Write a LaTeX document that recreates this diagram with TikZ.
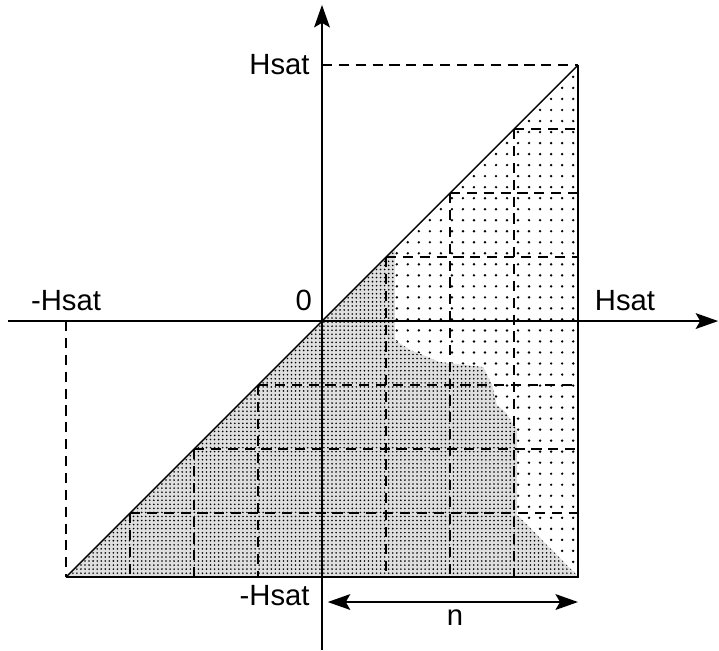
\documentclass[tikz,border=0pt]{standalone}
\usepackage{fontspec}
\setmainfont{Liberation Sans}
\usetikzlibrary{arrows.meta, patterns.meta, positioning}
\tikzset{
  axisline/.style={line width=0.9pt, -{Stealth[length=10pt,width=7pt,inset=2pt]}},
  gridline/.style={line width=0.9pt, dash pattern=on 4.5pt off 3pt},
  edgeline/.style={line width=0.9pt},
  sparsedots/.style={pattern={Dots[distance=4.9pt,radius=0.6pt]}},
  densedots/.style={pattern={Dots[distance=1.8pt,radius=0.4pt]}}
}

\begin{document}
\begin{tikzpicture}[x=1cm, y=1cm, font=\fontsize{13}{15}\selectfont]
\useasboundingbox (-5.031,-5.141) rectangle (6.203,5.016);
\coordinate (origin) at (0,0);
\coordinate (topright) at (4,4);
\coordinate (botright) at (4,-4);
\coordinate (botleft) at (-4,-4);
\coordinate (topaxis) at (0,4);
\coordinate (leftaxis) at (-4,0);
\coordinate (rightaxis) at (4,0);
\coordinate (botaxis) at (0,-4);
% shaded triangle
\fill[sparsedots] (botleft) -- (topright) -- (botright) -- cycle;
\fill[white] (botleft) -- (origin) -- (1.14,1.14) -- (1.14,-0.30) -- (1.375,-0.45)
  -- (1.84,-0.64) -- (2.52,-0.72) -- (2.66,-1.0) -- (2.73,-1.31) -- (2.86,-1.42)
  -- (3.05,-1.70) -- (3.05,-3.03) -- (3.98,-3.97) -- (botright) -- cycle;
\fill[gray!25] (botleft) -- (origin) -- (1.14,1.14) -- (1.14,-0.30) -- (1.375,-0.45)
  -- (1.84,-0.64) -- (2.52,-0.72) -- (2.66,-1.0) -- (2.73,-1.31) -- (2.86,-1.42)
  -- (3.05,-1.70) -- (3.05,-3.03) -- (3.98,-3.97) -- (botright) -- cycle;
\fill[densedots] (botleft) -- (origin) -- (1.14,1.14) -- (1.14,-0.30) -- (1.375,-0.45)
  -- (1.84,-0.64) -- (2.52,-0.72) -- (2.66,-1.0) -- (2.73,-1.31) -- (2.86,-1.42)
  -- (3.05,-1.70) -- (3.05,-3.03) -- (3.98,-3.97) -- (botright) -- cycle;
% dashed grid
\draw[gridline] (topaxis) -- (topright);
\draw[gridline] (leftaxis) -- (botleft);
\draw[gridline] (1,1) -- (4,1);
\draw[gridline] (2,2) -- (4,2);
\draw[gridline] (3,3) -- (4,3);
\draw[gridline] (1,1) -- (1,-4);
\draw[gridline] (2,2) -- (2,-4);
\draw[gridline] (3,3) -- (3,-4);
\draw[gridline] (-1,-1) -- (4,-1);
\draw[gridline] (-2,-2) -- (4,-2);
\draw[gridline] (-3,-3) -- (4,-3);
\draw[gridline] (-1,-1) -- (-1,-4);
\draw[gridline] (-2,-2) -- (-2,-4);
\draw[gridline] (-3,-3) -- (-3,-4);
% outline
\draw[line width=0.6pt] (botleft) -- (topright);
\draw[edgeline] (botleft) -- (botright) -- (topright);
% axes
\coordinate (xstart) at (-4.906,0);
\coordinate (xend) at (6.19,0);
\coordinate (ystart) at (0,-5.141);
\coordinate (yend) at (0,4.94);
\draw[axisline] (xstart) -- (xend);
\draw[axisline] (ystart) -- (yend);
% labels
\node[left=2pt of topaxis] (hsattop) {Hsat};
\node[above left=1pt and 1pt of origin] (zero) {0};
\node[above=1pt of leftaxis] (hsatleft) {-Hsat};
\node[above right=1pt and 4pt of rightaxis] (hsatright) {Hsat};
\node[below left=0pt and 2pt of botaxis] (hsatbot) {-Hsat};
% n arrow
\coordinate (nstart) at (0.09,-4.39);
\coordinate (nend) at (4,-4.39);
\draw[line width=0.9pt, {Stealth[length=10pt,width=7pt,inset=2pt]}-{Stealth[length=10pt,width=7pt,inset=2pt]}] (nstart) -- (nend);
\node (nlabel) at (2.08,-4.64) {n};
\end{tikzpicture}
\end{document}
